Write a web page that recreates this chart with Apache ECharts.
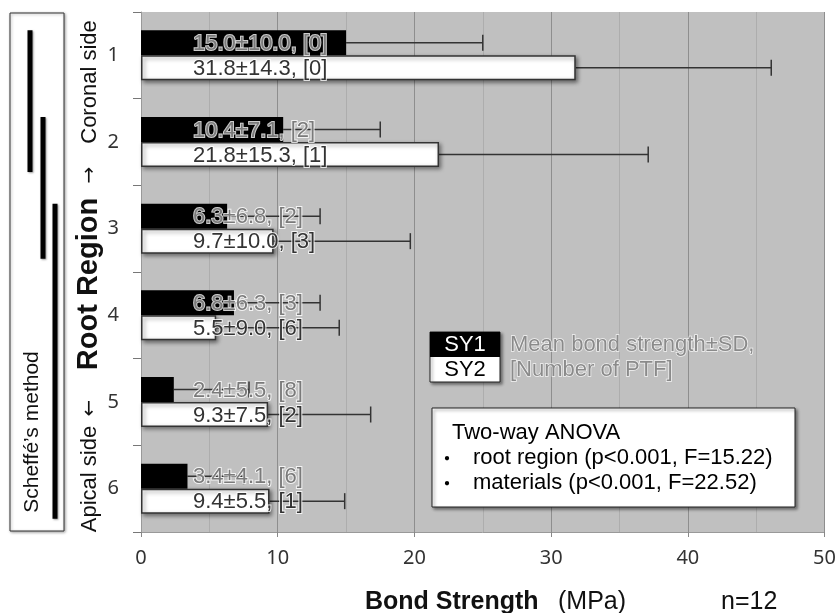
<!DOCTYPE html>
<html>
<head>
<meta charset="utf-8">
<script src="https://cdn.jsdelivr.net/npm/echarts@6/dist/echarts.min.js"></script>
<style>html,body{margin:0;padding:0;background:#fff}#main{width:839px;height:613px}</style>
</head>
<body>
<div id="main"></div>
<script>
// ---- data ----
const categories = ['1', '2', '3', '4', '5', '6'];
const sy1Mean = [15.0, 10.4, 6.3, 6.8, 2.4, 3.4];
const sy1SD   = [10.0, 7.1, 6.8, 6.3, 5.5, 4.1];
const sy1PTF  = [0, 2, 2, 3, 8, 6];
const sy2Mean = [31.8, 21.8, 9.7, 5.5, 9.3, 9.4];
const sy2SD   = [14.3, 15.3, 10.0, 9.0, 7.5, 5.5];
const sy2PTF  = [0, 1, 3, 6, 2, 1];
const xMin = 0, xMax = 50, xInterval = 10;
const scheffeGroups = [[0, 1], [1, 2], [2, 5]];

const FONT = "'Liberation Sans', Arial, sans-serif";
const BAR_W = 25;

function errData(mean, sd) { return mean.map((m, i) => [i, m, sd[i]]); }
function errRender(off) {
  return function (params, api) {
    const c = api.value(0), m = api.value(1), s = api.value(2);
    const a = api.coord([m, c]);
    const b = api.coord([m + s, c]);
    const y = a[1] + off;
    const st = { stroke: '#333', lineWidth: 1.5 };
    return { type: 'group', children: [
      { type: 'line', shape: { x1: a[0], y1: y, x2: b[0], y2: y }, style: st },
      { type: 'line', shape: { x1: b[0], y1: y - 8, x2: b[0], y2: y + 8 }, style: st }
    ]};
  };
}
function fmt(mean, sd, ptf) {
  return p => mean[p.dataIndex].toFixed(1) + '±' + sd[p.dataIndex].toFixed(1) + ', [' + ptf[p.dataIndex] + ']';
}

const chart = echarts.init(document.getElementById('main'));
const option = {
  animation: false,
  textStyle: { fontFamily: FONT },
  grid: { left: 141, right: 12, top: 12, bottom: 81, show: true, backgroundColor: '#c0c0c0', borderWidth: 0 },
  xAxis: {
    type: 'value', min: xMin, max: xMax, interval: xInterval,
    axisLine: { show: true, lineStyle: { color: '#999', width: 1 } },
    axisTick: { show: true, length: 5, lineStyle: { color: '#888' } },
    axisLabel: { fontSize: 20, color: '#333', margin: 16, fontFamily: "'Noto Sans', sans-serif" },
    splitLine: { show: true, lineStyle: { color: '#8e8e8e', width: 1 } },
    minorTick: { show: false, splitNumber: 2 },
    minorSplitLine: { show: true, lineStyle: { color: '#adadad', width: 1 } }
  },
  yAxis: {
    type: 'category', inverse: true, data: categories,
    axisLine: { show: true, lineStyle: { color: '#999' } },
    axisTick: { show: true, length: 8, lineStyle: { color: '#777' } },
    axisLabel: { fontSize: 20, color: '#333', margin: 22, fontFamily: "'Noto Sans', sans-serif" },
    splitLine: { show: false }
  },
  series: [
    {
      type: 'bar', name: 'SY1', data: sy1Mean, barWidth: BAR_W, barGap: '0%', z: 3,
      itemStyle: { color: '#000' },
      label: { show: true, position: 'insideLeft', offset: [47, 1], formatter: fmt(sy1Mean, sy1SD, sy1PTF),
        fontSize: 22, color: '#7a7a7a', textBorderColor: 'rgba(255,255,255,0.8)', textBorderWidth: 2, fontFamily: FONT }
    },
    {
      type: 'bar', name: 'SY2', data: sy2Mean, barWidth: BAR_W, barGap: '0%', z: 3,
      itemStyle: { color: '#fff', borderColor: '#333', borderWidth: 1.5, shadowBlur: 4, shadowOffsetX: 2, shadowOffsetY: 2, shadowColor: 'rgba(0,0,0,0.45)' },
      label: { show: true, position: 'insideLeft', offset: [47, 1], formatter: fmt(sy2Mean, sy2SD, sy2PTF),
        fontSize: 22, color: '#333', textBorderColor: 'rgba(255,255,255,0.8)', textBorderWidth: 2, fontFamily: FONT }
    },
    { type: 'custom', name: 'SY1 err', data: errData(sy1Mean, sy1SD), encode: { x: [1, 2], y: 0 }, renderItem: errRender(-BAR_W / 2), z: 2 },
    { type: 'custom', name: 'SY2 err', data: errData(sy2Mean, sy2SD), encode: { x: [1, 2], y: 0 }, renderItem: errRender(BAR_W / 2), z: 2 }
  ]
};
chart.setOption(option);

// ---- annotations ----
const g = [];
// Scheffe box
g.push({ type: 'rect', shape: { x: 10, y: 13, width: 54, height: 518 }, style: { fill: '#fff', stroke: '#333', lineWidth: 1, shadowBlur: 3, shadowOffsetX: 1, shadowOffsetY: 1, shadowColor: 'rgba(0,0,0,0.35)' }, z: 1 });
const sx = [30, 43, 55];
scheffeGroups.forEach((grp, k) => {
  const y1 = chart.convertToPixel({ yAxisIndex: 0 }, grp[0]) - 25;
  const y2 = chart.convertToPixel({ yAxisIndex: 0 }, grp[1]) + 30;
  g.push({ type: 'line', shape: { x1: sx[k], y1: y1, x2: sx[k], y2: y2 }, style: { stroke: '#000', lineWidth: 5, shadowBlur: 2, shadowOffsetX: 1, shadowOffsetY: 1, shadowColor: 'rgba(0,0,0,0.4)' }, z: 2 });
});
g.push({ type: 'text', x: 32, y: 432, rotation: Math.PI / 2, style: { text: 'Scheffé’s method', font: '21px ' + FONT, fill: '#111', textAlign: 'center', textVerticalAlign: 'middle' }, z: 3 });
// y axis titles (reading bottom-to-top)
g.push({ type: 'text', x: 90, y: 82, rotation: Math.PI / 2, style: { text: 'Coronal side', font: '22px ' + FONT, fill: '#111', textAlign: 'center', textVerticalAlign: 'middle' } });
g.push({ type: 'text', x: 90, y: 175, rotation: Math.PI / 2, style: { text: '→', font: "20px 'DejaVu Sans'", fill: '#111', textAlign: 'center', textVerticalAlign: 'middle' } });
g.push({ type: 'text', x: 89, y: 284, rotation: Math.PI / 2, style: { text: 'Root Region', font: 'bold 29px ' + FONT, fill: '#111', textAlign: 'center', textVerticalAlign: 'middle' } });
g.push({ type: 'text', x: 90, y: 408, rotation: Math.PI / 2, style: { text: '←', font: "20px 'DejaVu Sans'", fill: '#111', textAlign: 'center', textVerticalAlign: 'middle' } });
g.push({ type: 'text', x: 90, y: 479, rotation: Math.PI / 2, style: { text: 'Apical side', font: '22px ' + FONT, fill: '#111', textAlign: 'center', textVerticalAlign: 'middle' } });
// legend
g.push({ type: 'rect', shape: { x: 430, y: 332, width: 70, height: 50 }, style: { fill: '#fff', stroke: '#222', lineWidth: 1, shadowBlur: 3, shadowOffsetX: 2, shadowOffsetY: 2, shadowColor: 'rgba(0,0,0,0.45)' }, z: 5 });
g.push({ type: 'rect', shape: { x: 430, y: 332, width: 70, height: 25 }, style: { fill: '#000' }, z: 6 });
g.push({ type: 'text', x: 465, y: 345, style: { text: 'SY1', font: '22px ' + FONT, fill: '#fff', textAlign: 'center', textVerticalAlign: 'middle' }, z: 7 });
g.push({ type: 'text', x: 465, y: 370, style: { text: 'SY2', font: '22px ' + FONT, fill: '#000', textAlign: 'center', textVerticalAlign: 'middle' }, z: 7 });
g.push({ type: 'text', x: 510, y: 345, style: { text: 'Mean bond strength±SD,', font: '22px ' + FONT, fill: '#8a8a8a', stroke: 'rgba(255,255,255,0.8)', lineWidth: 1.5, textAlign: 'left', textVerticalAlign: 'middle' }, z: 7 });
g.push({ type: 'text', x: 510, y: 370, style: { text: '[Number of PTF]', font: '22px ' + FONT, fill: '#8a8a8a', stroke: 'rgba(255,255,255,0.8)', lineWidth: 1.5, textAlign: 'left', textVerticalAlign: 'middle' }, z: 7 });
// ANOVA box
g.push({ type: 'rect', shape: { x: 432, y: 408, width: 363, height: 99 }, style: { fill: '#fff', stroke: '#222', lineWidth: 1, shadowBlur: 3, shadowOffsetX: 2, shadowOffsetY: 2, shadowColor: 'rgba(0,0,0,0.45)' }, z: 5 });
g.push({ type: 'text', x: 452, y: 433, style: { text: 'Two-way ANOVA', font: '22px ' + FONT, fill: '#000', textAlign: 'left', textVerticalAlign: 'middle' }, z: 7 });
g.push({ type: 'text', x: 447, y: 458, style: { text: '・', font: "20px 'Noto Sans CJK JP'", fill: '#000', textAlign: 'center', textVerticalAlign: 'middle' }, z: 7 });
g.push({ type: 'text', x: 473, y: 458, style: { text: 'root region (p<0.001, F=15.22)', font: '22px ' + FONT, fill: '#000', textAlign: 'left', textVerticalAlign: 'middle' }, z: 7 });
g.push({ type: 'text', x: 447, y: 483, style: { text: '・', font: "20px 'Noto Sans CJK JP'", fill: '#000', textAlign: 'center', textVerticalAlign: 'middle' }, z: 7 });
g.push({ type: 'text', x: 473, y: 483, style: { text: 'materials (p<0.001, F=22.52)', font: '22px ' + FONT, fill: '#000', textAlign: 'left', textVerticalAlign: 'middle' }, z: 7 });
// x axis title
g.push({ type: 'text', x: 365, y: 602, style: { text: 'Bond Strength', font: 'bold 25px ' + FONT, fill: '#111', textAlign: 'left', textVerticalAlign: 'middle' } });
g.push({ type: 'text', x: 558, y: 602, style: { text: '(MPa)', font: '25px ' + FONT, fill: '#111', textAlign: 'left', textVerticalAlign: 'middle' } });
g.push({ type: 'text', x: 721, y: 602, style: { text: 'n=12', font: '25px ' + FONT, fill: '#111', textAlign: 'left', textVerticalAlign: 'middle' } });

chart.setOption({ graphic: { elements: g } });
</script>
</body>
</html>
